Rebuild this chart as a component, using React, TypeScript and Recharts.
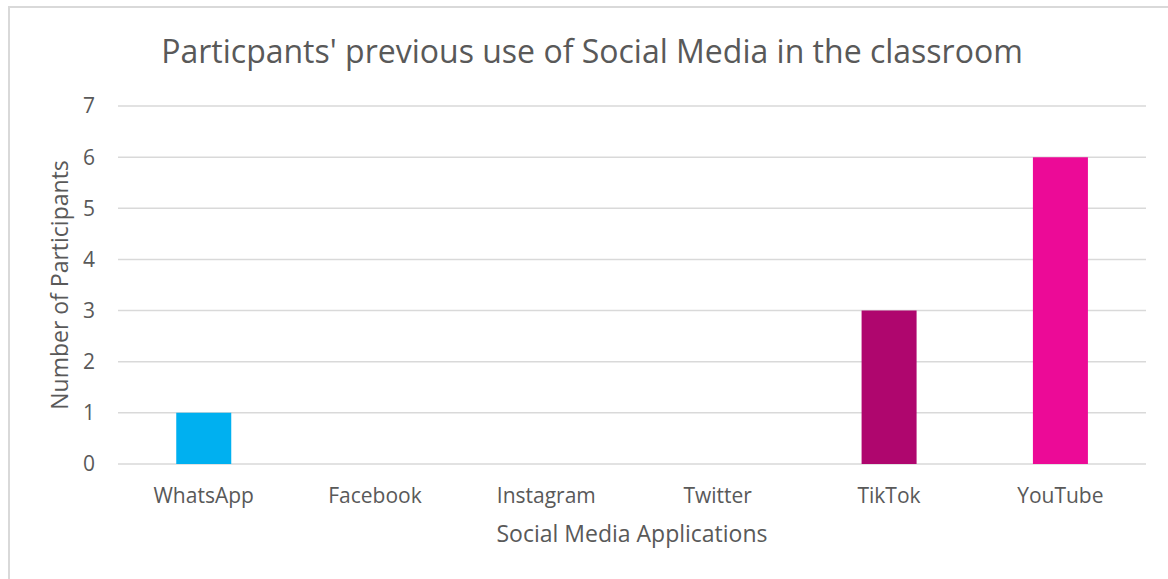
import { BarChart, Bar, XAxis, YAxis, CartesianGrid, Cell } from 'recharts';

const categories = ['WhatsApp', 'Facebook', 'Instagram', 'Twitter', 'TikTok', 'YouTube'];
const participants = [1, 0, 0, 0, 3, 6];
const barColors = ['#00B0F0', '#4472C4', '#ED7D31', '#A5A5A5', '#AF066E', '#EC0A97'];
const yTicks = [0, 1, 2, 3, 4, 5, 6, 7];

const FONT = '"Open Sans", Lato, sans-serif';

export default function App() {
    const data = categories.map((name, i) => ({ name, value: participants[i], color: barColors[i] }));

    return (
        <div style={{ position: 'absolute', left: 0, top: 0, width: 1168, height: 579, overflow: 'hidden', background: '#fff' }}>
            <div style={{ position: 'absolute', left: 8, top: 6, width: 1200, height: 620, border: '2px solid #d9d9d9' }} />
            <div style={{ position: 'absolute', left: 0, top: 0 }}>
                <BarChart
                    width={1168}
                    height={579}
                    data={data}
                    margin={{ top: 106, right: 22, bottom: 85, left: 0 }}
                    barCategoryGap="34%"
                >
                    <text x={592} y={63} textAnchor="middle" fill="#595959" fontSize={32} fontFamily={FONT}>
                        Particpants' previous use of Social Media in the classroom
                    </text>
                    <CartesianGrid vertical={false} stroke="#d9d9d9" strokeWidth={1.5} />
                    <XAxis
                        dataKey="name"
                        axisLine={false}
                        tickLine={false}
                        tickMargin={18}
                        tick={{ fill: '#595959', fontSize: 21, fontFamily: FONT }}
                        label={{ value: 'Social Media Applications', position: 'insideBottom', offset: -48, fill: '#595959', fontSize: 23, fontFamily: FONT }}
                    />
                    <YAxis
                        width={118}
                        domain={[0, 7]}
                        ticks={yTicks}
                        interval={0}
                        axisLine={false}
                        tickLine={false}
                        tickMargin={17}
                        tick={{ fill: '#595959', fontSize: 21, fontFamily: FONT }}
                        label={{ value: 'Number of Participants', angle: -90, position: 'insideLeft', offset: 60, fill: '#595959', fontSize: 23, fontFamily: FONT, style: { textAnchor: 'middle' } }}
                    />
                    <Bar dataKey="value" isAnimationActive={false}>
                        {data.map((entry, index) => (
                            <Cell key={`cell-${index}`} fill={entry.color} />
                        ))}
                    </Bar>
                </BarChart>
            </div>
        </div>
    );
}
